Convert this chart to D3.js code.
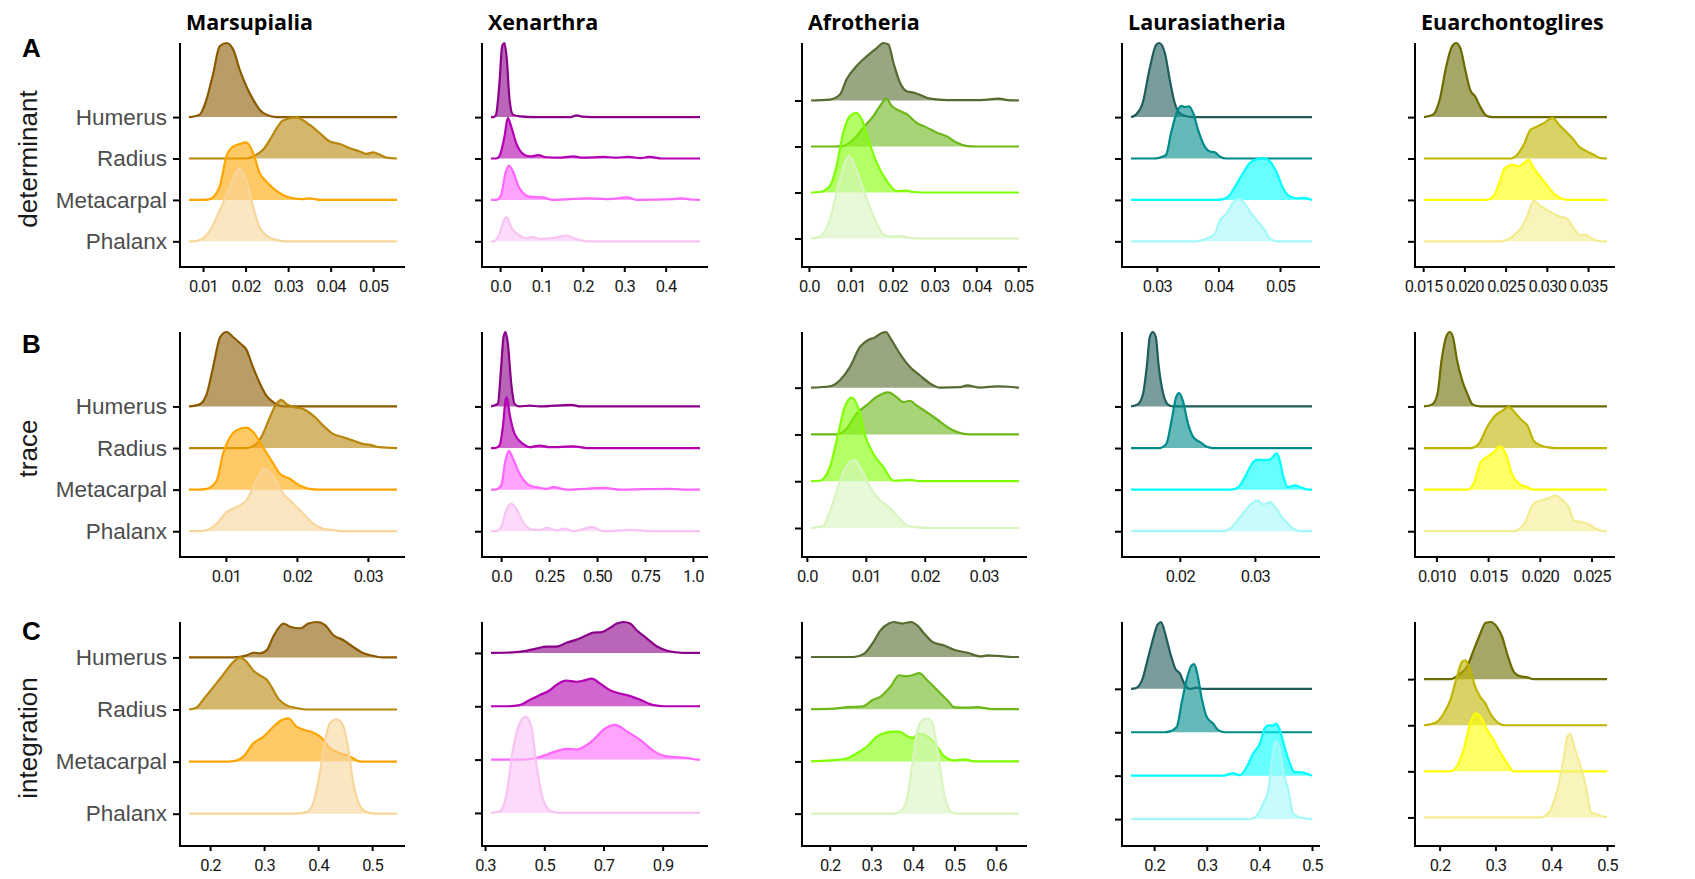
<!DOCTYPE html>
<html lang="en">
<head>
<meta charset="UTF-8">
<title>Ridgeline densities by clade</title>
<style>
  body { margin: 0; background: #fff; }
  svg { display: block; background: #fff; }
  .x-axis text { font-family: Roboto, "Open Sans", sans-serif; font-size: 16.5px; letter-spacing: -0.75px; fill: #1a1a1a; }
  .y-axis text { font-family: "Liberation Sans", Arial, sans-serif; font-size: 22.5px; fill: #4d4d4d; }
  .x-axis line, .y-axis line { stroke: #000; stroke-width: 2; }
  .axis-line { stroke: #000; stroke-width: 2; }
  .clade-title { font-family: "Open Sans", sans-serif; font-weight: 700; font-size: 21.5px; fill: #000; }
  .row-label { font-family: "Liberation Sans", Arial, sans-serif; font-size: 26px; fill: #1a1a1a; }
  .row-letter { font-family: "Liberation Sans", Arial, sans-serif; font-weight: 700; font-size: 26px; fill: #000; }
</style>
</head>
<body>
<svg id="chart" width="1695" height="879"></svg>
<script src="https://cdnjs.cloudflare.com/ajax/libs/d3/7.9.0/d3.min.js"></script>
<script>
// ---- categories ----
const bones = ["Humerus", "Radius", "Metacarpal", "Phalanx"];
const clades = ["Marsupialia", "Xenarthra", "Afrotheria", "Laurasiatheria", "Euarchontoglires"];
const metrics = ["determinant", "trace", "integration"];
const rowLetters = ["A", "B", "C"];

// ---- colours per clade (Humerus, Radius, Metacarpal, Phalanx) ----
const marsupialiaColors = ["#8b5a00", "#b8860b", "#ffa500", "#f8d59a"];
const xenarthraColors = ["#8b008b", "#b300b3", "#ff66ff", "#f9c3f5"];
const afrotheriaColors = ["#556b2f", "#6cb81a", "#7fff00", "#d8f5bf"];
const laurasiatheriaColors = ["#1f5c5c", "#008b8b", "#00ffff", "#a4f8f8"];
const euarchontogliresColors = ["#6b6b00", "#bfb500", "#ffff00", "#f3ec90"];

// ---- density ridges: [value, height in row units], order Humerus, Radius, Metacarpal, Phalanx ----
// A: determinant
const detMarsupialia = [
  [[0.0092,0.06],[0.0108,0.42],[0.0124,1.06],[0.0139,1.71],[0.0155,1.79],[0.0171,1.63],[0.0186,1.15],[0.0202,0.74],[0.0218,0.42],[0.0233,0.18],[0.0249,0.06],[0.0273,0]],
  [[0.0200,0],[0.0218,0.05],[0.0241,0.21],[0.0257,0.45],[0.0273,0.73],[0.0288,0.92],[0.0320,1.0],[0.0327,0.97],[0.0351,0.81],[0.0375,0.61],[0.0398,0.41],[0.0422,0.35],[0.0445,0.25],[0.0469,0.17],[0.0484,0.11],[0.0500,0.15],[0.0516,0.09],[0.0531,0.02]],
  [[0.0100,0],[0.0116,0.02],[0.0139,0.32],[0.0155,1.05],[0.0171,1.29],[0.0186,1.35],[0.0202,1.39],[0.0218,1.13],[0.0233,0.65],[0.0249,0.44],[0.0265,0.28],[0.0288,0.12],[0.0312,0.04],[0.0335,0.02],[0.0351,0.04],[0.0375,0]],
  [[0.0075,0],[0.0092,0.03],[0.0116,0.26],[0.0139,0.74],[0.0163,1.31],[0.0185,1.75],[0.0202,1.47],[0.0218,0.82],[0.0233,0.34],[0.0249,0.14],[0.0273,0.03],[0.0296,0]]
];
const detXenarthra = [
  [[-0.015,0],[-0.0098,0.06],[-0.0016,0.82],[0.0049,1.71],[0.0106,1.79],[0.0163,1.39],[0.0228,0.42],[0.0309,0.06],[0.047,0.02],[0.088,0],[0.17,0],[0.185,0.04],[0.2,0.01],[0.22,0]],
  [[-0.01,0],[-0.0016,0.06],[0.0106,0.53],[0.0187,0.98],[0.0268,0.77],[0.039,0.37],[0.0553,0.11],[0.0715,0.05],[0.092,0.08],[0.112,0.03],[0.14,0.02],[0.177,0.05],[0.2,0.02],[0.25,0.04],[0.28,0.02],[0.31,0.04],[0.34,0.01],[0.36,0.04],[0.39,0]],
  [[-0.01,0],[0.0024,0.12],[0.013,0.65],[0.0211,0.83],[0.0309,0.69],[0.047,0.28],[0.0715,0.08],[0.104,0.06],[0.128,0],[0.21,0.04],[0.26,0.02],[0.307,0.06],[0.332,0],[0.42,0.02],[0.437,0.04],[0.46,0.01]],
  [[-0.015,0],[-0.0016,0.18],[0.0106,0.54],[0.0163,0.58],[0.0268,0.34],[0.047,0.14],[0.0634,0.08],[0.0756,0.11],[0.096,0.06],[0.128,0.08],[0.161,0.14],[0.177,0.08],[0.21,0]]
];
const detAfrotheria = [
  [[0.005,0.02],[0.0074,0.13],[0.009,0.46],[0.0114,0.75],[0.0138,0.96],[0.0162,1.14],[0.0178,1.25],[0.019,1.22],[0.0202,0.82],[0.0218,0.38],[0.0234,0.2],[0.025,0.17],[0.0266,0.12],[0.029,0.04],[0.033,0.01],[0.041,0.01],[0.0454,0.04],[0.0474,0.01]],
  [[0.006,0],[0.0082,0.01],[0.0106,0.15],[0.013,0.41],[0.0154,0.66],[0.017,0.88],[0.0185,1.04],[0.0198,0.88],[0.0218,0.77],[0.0234,0.7],[0.0258,0.51],[0.0282,0.41],[0.0306,0.3],[0.033,0.22],[0.0354,0.08],[0.0378,0.01],[0.04,0]],
  [[0.0026,0.01],[0.005,0.14],[0.0066,0.57],[0.0082,1.3],[0.0098,1.66],[0.0113,1.73],[0.0126,1.59],[0.0142,1.15],[0.0162,0.65],[0.0186,0.25],[0.021,0.03],[0.0234,0.04],[0.025,0.01],[0.027,0]],
  [[0.0026,0.04],[0.005,0.41],[0.007,1.14],[0.0086,1.64],[0.0096,1.79],[0.011,1.57],[0.013,1.07],[0.0154,0.49],[0.0178,0.09],[0.0194,0.04],[0.0218,0.05],[0.0242,0.01],[0.026,0]]
];
const detLaurasiatheria = [
  [[0.0266,0.06],[0.0277,0.34],[0.0288,1.15],[0.0299,1.75],[0.0304,1.79],[0.0313,1.55],[0.0321,0.9],[0.0329,0.34],[0.0337,0.1],[0.0348,0.02],[0.036,0]],
  [[0.0295,0],[0.0304,0.02],[0.0315,0.09],[0.0323,0.61],[0.0332,1.1],[0.034,1.27],[0.0345,1.24],[0.0352,1.26],[0.0359,1.1],[0.0367,0.69],[0.0375,0.37],[0.0386,0.17],[0.0394,0.15],[0.0402,0.05],[0.0413,0]],
  [[0.0395,0],[0.0408,0.02],[0.0416,0.08],[0.0427,0.32],[0.044,0.65],[0.0451,0.89],[0.0462,0.98],[0.0473,1.01],[0.0484,0.93],[0.0495,0.65],[0.0505,0.28],[0.0516,0.08],[0.0527,0.04],[0.0538,0.05]],
  [[0.0364,0],[0.038,0.06],[0.0394,0.18],[0.0402,0.5],[0.0413,0.66],[0.0424,0.94],[0.0434,1.02],[0.0443,0.9],[0.0454,0.66],[0.0465,0.46],[0.0476,0.26],[0.0484,0.06],[0.0495,0]]
];
const detEuarchontoglires = [
  [[0.0162,0.06],[0.017,0.42],[0.0178,1.23],[0.0185,1.71],[0.019,1.79],[0.0195,1.67],[0.0201,1.15],[0.0207,0.66],[0.0213,0.5],[0.0219,0.26],[0.0227,0.03],[0.0235,0]],
  [[0.0256,0],[0.0264,0.09],[0.0272,0.33],[0.028,0.69],[0.0288,0.77],[0.0296,0.85],[0.0307,0.98],[0.0315,0.81],[0.0323,0.65],[0.0331,0.49],[0.0339,0.29],[0.0347,0.19],[0.0357,0.09],[0.0365,0.01]],
  [[0.0227,0],[0.0235,0.08],[0.0243,0.44],[0.0249,0.77],[0.0258,0.85],[0.0266,0.81],[0.0272,0.89],[0.0278,0.97],[0.0284,0.77],[0.0292,0.56],[0.03,0.36],[0.0308,0.16],[0.0317,0.04],[0.0325,0]],
  [[0.0243,0],[0.0256,0.08],[0.0266,0.26],[0.0274,0.5],[0.028,0.82],[0.0284,0.98],[0.0292,0.86],[0.0302,0.74],[0.0313,0.62],[0.0325,0.54],[0.0333,0.3],[0.0341,0.14],[0.0347,0.16],[0.0355,0.06],[0.0365,0]]
];

// B: trace
const traceMarsupialia = [
  [[0.0063,0.05],[0.0073,0.3],[0.0082,0.95],[0.0092,1.67],[0.0101,1.79],[0.011,1.67],[0.012,1.52],[0.0129,1.36],[0.0138,0.95],[0.0148,0.55],[0.0157,0.26],[0.0167,0.1],[0.0181,0]],
  [[0.0129,0],[0.0143,0.1],[0.0152,0.34],[0.0162,0.74],[0.0171,1.06],[0.0178,1.16],[0.0185,1.06],[0.0195,0.99],[0.0209,0.94],[0.0223,0.78],[0.0237,0.54],[0.0251,0.34],[0.0265,0.26],[0.0279,0.18],[0.0293,0.1],[0.0302,0.08],[0.0316,0.02]],
  [[0.006,0],[0.0073,0.02],[0.0087,0.22],[0.0096,0.87],[0.0106,1.27],[0.0115,1.43],[0.0129,1.49],[0.0138,1.39],[0.0152,1.03],[0.0167,0.62],[0.0176,0.38],[0.019,0.26],[0.0204,0.1],[0.0218,0.02],[0.0232,0]],
  [[0.006,0],[0.0073,0.03],[0.0087,0.18],[0.0101,0.46],[0.0115,0.58],[0.0129,0.74],[0.0143,1.22],[0.0155,1.5],[0.0167,1.3],[0.0181,0.9],[0.0195,0.66],[0.0209,0.42],[0.0223,0.18],[0.0237,0.06],[0.0251,0.03],[0.0265,0]]
];
const traceXenarthra = [
  [[-0.0175,0.06],[0,0.95],[0.0123,1.67],[0.0228,1.79],[0.035,1.51],[0.0526,0.55],[0.0702,0.06],[0.0965,0],[0.149,0.02],[0.2,0],[0.368,0.04],[0.412,0]],
  [[-0.03,0],[-0.0088,0.06],[0.0088,0.5],[0.0228,1.14],[0.0298,1.22],[0.0439,0.82],[0.0702,0.34],[0.114,0.1],[0.149,0.02],[0.2,0.06],[0.254,0.02],[0.377,0.04],[0.447,0]],
  [[-0.03,0],[0,0.1],[0.0228,0.71],[0.0404,0.93],[0.0614,0.75],[0.0965,0.38],[0.149,0.1],[0.184,0.06],[0.237,0.02],[0.272,0.06],[0.342,0],[0.535,0.04],[0.623,0],[0.868,0.02],[0.95,0]],
  [[-0.03,0],[0,0.1],[0.0263,0.5],[0.0526,0.66],[0.079,0.54],[0.114,0.22],[0.149,0.06],[0.2,0.03],[0.237,0.08],[0.289,0.02],[0.333,0.06],[0.377,0],[0.474,0.1],[0.535,0],[0.675,0.03],[0.798,0]]
];
const traceAfrotheria = [
  [[0.0039,0.03],[0.0056,0.16],[0.0073,0.44],[0.009,0.87],[0.0104,1.02],[0.0115,1.07],[0.0127,1.17],[0.0134,1.19],[0.0144,1.01],[0.0158,0.72],[0.0175,0.44],[0.0192,0.26],[0.0209,0.09],[0.0226,0],[0.026,0.01],[0.0272,0.05],[0.0294,0],[0.0323,0.03]],
  [[0.005,0],[0.0067,0.12],[0.0084,0.44],[0.0101,0.62],[0.0118,0.8],[0.0138,0.9],[0.0152,0.8],[0.0164,0.69],[0.0175,0.72],[0.0186,0.62],[0.0203,0.48],[0.022,0.33],[0.0238,0.16],[0.0255,0.05],[0.0277,0]],
  [[0.0022,0.01],[0.0039,0.3],[0.0053,1.01],[0.0064,1.58],[0.0076,1.79],[0.0087,1.58],[0.0098,1.01],[0.0113,0.58],[0.013,0.3],[0.0147,0.01],[0.0175,0.03],[0.0192,0]],
  [[0.0027,0.04],[0.0044,0.53],[0.0061,1.17],[0.0073,1.41],[0.0081,1.45],[0.0093,1.24],[0.0107,0.88],[0.0124,0.6],[0.0141,0.42],[0.0155,0.24],[0.0169,0.06],[0.0192,0.01],[0.0209,0]]
];
const traceLaurasiatheria = [
  [[0.0144,0.05],[0.0151,0.3],[0.0156,0.95],[0.016,1.67],[0.0164,1.79],[0.0168,1.67],[0.0172,0.95],[0.0178,0.3],[0.0184,0.05],[0.0191,0]],
  [[0.0173,0],[0.0182,0.1],[0.0189,0.66],[0.0195,1.22],[0.0199,1.32],[0.0204,1.14],[0.0211,0.58],[0.0218,0.26],[0.0227,0.14],[0.0236,0.03],[0.0244,0]],
  [[0.0269,0],[0.0278,0.06],[0.0289,0.38],[0.0298,0.67],[0.0304,0.72],[0.0313,0.71],[0.032,0.72],[0.0324,0.79],[0.0329,0.88],[0.0333,0.71],[0.0338,0.3],[0.0344,0.06],[0.0353,0.1],[0.0362,0.05],[0.0371,0]],
  [[0.0258,0],[0.0267,0.06],[0.028,0.34],[0.0289,0.54],[0.0298,0.7],[0.0304,0.74],[0.0311,0.64],[0.032,0.7],[0.0327,0.58],[0.0336,0.34],[0.0344,0.18],[0.0351,0.06],[0.036,0]]
];
const traceEuarchontoglires = [
  [[0.0096,0.05],[0.0101,0.3],[0.0105,1.11],[0.011,1.71],[0.0113,1.79],[0.0116,1.67],[0.012,1.11],[0.0125,0.62],[0.013,0.3],[0.0135,0.05],[0.0143,0]],
  [[0.0133,0],[0.0141,0.1],[0.0149,0.5],[0.0157,0.78],[0.0164,0.9],[0.017,0.99],[0.0177,0.82],[0.0183,0.66],[0.0188,0.54],[0.0194,0.18],[0.0201,0.06],[0.0207,0.02],[0.0214,0]],
  [[0.013,0],[0.0136,0.14],[0.0143,0.67],[0.0149,0.79],[0.0156,0.91],[0.0161,1.04],[0.0167,0.87],[0.0173,0.38],[0.018,0.14],[0.0188,0.06],[0.0194,0]],
  [[0.0175,0],[0.0185,0.18],[0.0194,0.66],[0.0201,0.74],[0.0207,0.78],[0.0215,0.86],[0.0222,0.74],[0.0228,0.58],[0.0233,0.26],[0.024,0.22],[0.0246,0.18],[0.0253,0.08],[0.0262,0]]
];

// C: integration
const intMarsupialia = [
  [[0.243,0],[0.268,0.04],[0.28,0.09],[0.293,0.08],[0.305,0.14],[0.317,0.4],[0.336,0.65],[0.348,0.59],[0.367,0.56],[0.382,0.65],[0.398,0.68],[0.413,0.62],[0.428,0.43],[0.447,0.33],[0.465,0.2],[0.484,0.08],[0.502,0.03],[0.52,0]],
  [[0.175,0.04],[0.188,0.2],[0.206,0.43],[0.225,0.68],[0.243,0.91],[0.256,1.0],[0.268,0.91],[0.28,0.75],[0.293,0.65],[0.305,0.57],[0.314,0.43],[0.327,0.2],[0.342,0.08],[0.36,0.03],[0.379,0]],
  [[0.225,0],[0.243,0.01],[0.262,0.1],[0.28,0.35],[0.299,0.48],[0.317,0.67],[0.333,0.8],[0.345,0.83],[0.36,0.67],[0.373,0.61],[0.388,0.57],[0.404,0.48],[0.422,0.26],[0.441,0.16],[0.459,0.1],[0.478,0]],
  [[0.36,0],[0.378,0.03],[0.391,0.2],[0.404,0.84],[0.413,1.41],[0.422,1.74],[0.435,1.81],[0.447,1.67],[0.456,1.23],[0.465,0.59],[0.478,0.14],[0.49,0.03],[0.505,0]]
];
const intXenarthra = [
  [[0.394,0.01],[0.439,0.04],[0.473,0.08],[0.507,0.12],[0.541,0.12],[0.575,0.19],[0.609,0.25],[0.643,0.33],[0.666,0.38],[0.694,0.39],[0.722,0.47],[0.745,0.55],[0.768,0.58],[0.79,0.55],[0.813,0.42],[0.847,0.27],[0.881,0.12],[0.915,0.04],[0.949,0.01],[0.98,0]],
  [[0.38,0],[0.417,0.02],[0.451,0.12],[0.485,0.21],[0.519,0.3],[0.541,0.4],[0.575,0.48],[0.609,0.46],[0.632,0.48],[0.66,0.52],[0.688,0.43],[0.722,0.3],[0.756,0.24],[0.79,0.19],[0.824,0.12],[0.87,0.02],[0.904,0]],
  [[0.4,0],[0.451,0.01],[0.496,0.07],[0.541,0.16],[0.575,0.2],[0.609,0.19],[0.637,0.25],[0.666,0.37],[0.7,0.56],[0.739,0.65],[0.779,0.53],[0.824,0.37],[0.87,0.16],[0.915,0.06],[0.983,0.03],[1.02,0]],
  [[0.349,0.03],[0.371,0.31],[0.394,1.18],[0.417,1.68],[0.437,1.8],[0.456,1.62],[0.473,0.93],[0.496,0.25],[0.524,0.03],[0.553,0]]
];
const intAfrotheria = [
  [[0.258,0],[0.282,0.06],[0.302,0.25],[0.322,0.51],[0.342,0.64],[0.354,0.67],[0.375,0.64],[0.395,0.67],[0.411,0.6],[0.427,0.45],[0.447,0.29],[0.475,0.22],[0.499,0.14],[0.531,0.08],[0.564,0.01],[0.58,0.03],[0.604,0.02],[0.64,0]],
  [[0.21,0.01],[0.242,0.04],[0.27,0.05],[0.282,0.06],[0.302,0.17],[0.322,0.24],[0.346,0.43],[0.367,0.65],[0.383,0.63],[0.399,0.65],[0.415,0.69],[0.435,0.55],[0.459,0.36],[0.483,0.17],[0.499,0.04],[0.531,0.03],[0.556,0.04],[0.58,0.01],[0.6,0]],
  [[0.202,0.02],[0.242,0.06],[0.266,0.16],[0.29,0.29],[0.314,0.48],[0.33,0.54],[0.35,0.57],[0.367,0.57],[0.387,0.48],[0.399,0.45],[0.415,0.53],[0.435,0.48],[0.455,0.32],[0.475,0.1],[0.499,0.02],[0.523,0.04],[0.548,0]],
  [[0.34,0],[0.363,0.01],[0.383,0.2],[0.399,0.97],[0.411,1.6],[0.427,1.81],[0.437,1.82],[0.447,1.73],[0.459,1.22],[0.475,0.39],[0.491,0.04],[0.507,0]]
];
const intLaurasiatheria = [
  [[0.164,0.01],[0.177,0.2],[0.189,0.74],[0.199,1.2],[0.206,1.47],[0.213,1.54],[0.221,1.27],[0.23,0.85],[0.24,0.47],[0.249,0.35],[0.259,0.08],[0.268,0],[0.281,0.03],[0.293,0]],
  [[0.22,0],[0.23,0.02],[0.243,0.12],[0.252,0.66],[0.263,1.27],[0.271,1.54],[0.276,1.57],[0.282,1.35],[0.29,0.81],[0.3,0.35],[0.312,0.2],[0.322,0.05],[0.335,0]],
  [[0.331,0],[0.341,0.03],[0.35,0.06],[0.363,0.01],[0.376,0.2],[0.388,0.51],[0.401,0.74],[0.41,1.08],[0.417,1.16],[0.426,1.16],[0.432,1.2],[0.439,1.04],[0.448,0.66],[0.458,0.28],[0.467,0.08],[0.477,0.08],[0.489,0.05]],
  [[0.375,0],[0.388,0.02],[0.398,0.13],[0.407,0.36],[0.417,0.67],[0.423,1.28],[0.429,1.74],[0.432,1.78],[0.439,1.59],[0.445,1.13],[0.455,0.67],[0.464,0.13],[0.477,0.04]]
];
const intEuarchontoglires = [
  [[0.219,0],[0.237,0.12],[0.249,0.27],[0.261,0.63],[0.273,0.99],[0.282,1.22],[0.291,1.24],[0.303,1.13],[0.312,0.92],[0.321,0.55],[0.333,0.16],[0.345,0.06],[0.357,0.04],[0.369,0]],
  [[0.183,0.02],[0.195,0.07],[0.207,0.25],[0.219,0.54],[0.231,1.05],[0.24,1.37],[0.246,1.41],[0.255,1.19],[0.264,0.83],[0.273,0.61],[0.282,0.47],[0.291,0.25],[0.303,0.07],[0.315,0]],
  [[0.219,0],[0.231,0.11],[0.243,0.47],[0.255,1.05],[0.264,1.26],[0.273,1.19],[0.285,0.9],[0.297,0.68],[0.309,0.4],[0.321,0.18],[0.333,0]],
  [[0.38,0],[0.387,0.02],[0.399,0.17],[0.411,0.6],[0.423,1.32],[0.429,1.75],[0.434,1.81],[0.441,1.54],[0.453,1.1],[0.462,0.68],[0.471,0.13],[0.483,0.06]]
];

// ---- x extent of each panel's ridges (data range) ----
const detExtents = [[0.0067, 0.0556], [-0.022, 0.483], [0.0005, 0.0502], [0.0258, 0.0552], [0.0151, 0.0373]];
const traceExtents = [[0.0048, 0.0341], [-0.053, 1.037], [0.0007, 0.036], [0.0135, 0.0376], [0.0088, 0.0265]];
const intExtents = [[0.161, 0.546], [0.32, 1.026], [0.155, 0.655], [0.156, 0.5], [0.172, 0.5]];

// ---- tick labels ----
const detTicks = [
  ["0.01", "0.02", "0.03", "0.04", "0.05"],
  ["0.0", "0.1", "0.2", "0.3", "0.4"],
  ["0.0", "0.01", "0.02", "0.03", "0.04", "0.05"],
  ["0.03", "0.04", "0.05"],
  ["0.015", "0.020", "0.025", "0.030", "0.035"]
];
const traceTicks = [
  ["0.01", "0.02", "0.03"],
  ["0.0", "0.25", "0.50", "0.75", "1.0"],
  ["0.0", "0.01", "0.02", "0.03"],
  ["0.02", "0.03"],
  ["0.010", "0.015", "0.020", "0.025"]
];
const intTicks = [
  ["0.2", "0.3", "0.4", "0.5"],
  ["0.3", "0.5", "0.7", "0.9"],
  ["0.2", "0.3", "0.4", "0.5", "0.6"],
  ["0.2", "0.3", "0.4", "0.5"],
  ["0.2", "0.3", "0.4", "0.5"]
];

const cladeColors = [marsupialiaColors, xenarthraColors, afrotheriaColors, laurasiatheriaColors, euarchontogliresColors];
const ridgeSets = [
  [detMarsupialia, detXenarthra, detAfrotheria, detLaurasiatheria, detEuarchontoglires],
  [traceMarsupialia, traceXenarthra, traceAfrotheria, traceLaurasiatheria, traceEuarchontoglires],
  [intMarsupialia, intXenarthra, intAfrotheria, intLaurasiatheria, intEuarchontoglires]
];
const extentSets = [detExtents, traceExtents, intExtents];
const tickSets = [detTicks, traceTicks, intTicks];

// ---- layout ----
const rowTop = [43, 332, 622];
const rowBottom = [267, 557, 846];
const colLeft = [180, 482, 802, 1122, 1415];
const colRight = [405, 708, 1027, 1320, 1615];
const letterBaseline = [57, 353, 640];
const inset = [9, 8];     // gap between axis ends and the ridge range
const bottomPad = 0.62;   // space under the lowest ridge, in row units

const svg = d3.select("#chart");

// pad a ridge out to the panel's full range with a flat baseline
function withEnds(pts, lo, hi) {
  const out = pts.slice();
  if (out[0][0] > lo) out.unshift([lo, 0]);
  if (out[out.length - 1][0] < hi) out.push([hi, 0]);
  return out;
}

metrics.forEach((metric, r) => {
  const T = rowTop[r], B = rowBottom[r];

  clades.forEach((clade, c) => {
    const L = colLeft[c], R = colRight[c];
    const ridges = ridgeSets[r][c];
    const [lo, hi] = extentSets[r][c];
    const colors = cladeColors[c];

    const x = d3.scaleLinear().domain([lo, hi]).range([L + inset[0], R - inset[1]]);
    const maxTop = d3.max(ridges, (pts, i) => (bones.length - i) + d3.max(pts, p => p[1]));
    const y = d3.scaleLinear().domain([1 - bottomPad, maxTop]).range([B, T]);

    const g = svg.append("g").attr("class", "panel");

    // ridges, top one first so the lower ones sit in front
    ridges.forEach((pts, i) => {
      const base = bones.length - i;
      const full = withEnds(pts, lo, hi);
      const area = d3.area()
        .curve(d3.curveMonotoneX)
        .x(d => x(d[0]))
        .y0(y(base))
        .y1(d => y(base + d[1]));
      const line = d3.line()
        .curve(d3.curveMonotoneX)
        .x(d => x(d[0]))
        .y(d => y(base + d[1]));
      g.append("path")
        .attr("d", area(full))
        .attr("fill", colors[i])
        .attr("fill-opacity", 0.6);
      g.append("path")
        .attr("d", line(full))
        .attr("fill", "none")
        .attr("stroke", colors[i])
        .attr("stroke-width", 2.2)
        .attr("stroke-linejoin", "round");
    });

    // x axis
    const ticks = tickSets[r][c];
    const xAxis = d3.axisBottom(x)
      .tickValues(ticks.map(Number))
      .tickFormat((d, i) => ticks[i])
      .tickSize(5)
      .tickSizeOuter(0)
      .tickPadding(8);
    const gx = g.append("g")
      .attr("class", "x-axis")
      .attr("transform", `translate(0,${B})`)
      .call(xAxis);
    gx.select(".domain").remove();

    // y axis (labels only in the first column)
    const yAxis = d3.axisLeft(y)
      .tickValues(bones.map((b, i) => bones.length - i))
      .tickFormat((d, i) => c === 0 ? bones[i] : "")
      .tickSize(7)
      .tickSizeOuter(0)
      .tickPadding(6);
    const gy = g.append("g")
      .attr("class", "y-axis")
      .attr("transform", `translate(${L},0)`)
      .call(yAxis);
    gy.select(".domain").remove();

    // axis lines
    g.append("line").attr("class", "axis-line")
      .attr("x1", L).attr("x2", L).attr("y1", T).attr("y2", B + 1);
    g.append("line").attr("class", "axis-line")
      .attr("x1", L - 1).attr("x2", R).attr("y1", B).attr("y2", B);

    // clade titles on top row
    if (r === 0) {
      svg.append("text")
        .attr("class", "clade-title")
        .attr("x", L + 6)
        .attr("y", 30)
        .text(clade);
    }
  });

  // row letter and metric label
  svg.append("text")
    .attr("class", "row-letter")
    .attr("x", 22)
    .attr("y", letterBaseline[r])
    .text(rowLetters[r]);

  svg.append("text")
    .attr("class", "row-label")
    .attr("text-anchor", "middle")
    .attr("dominant-baseline", "central")
    .attr("transform", `translate(28,${(T + B) / 2 + 4}) rotate(-90)`)
    .text(metric);
});
</script>
</body>
</html>
